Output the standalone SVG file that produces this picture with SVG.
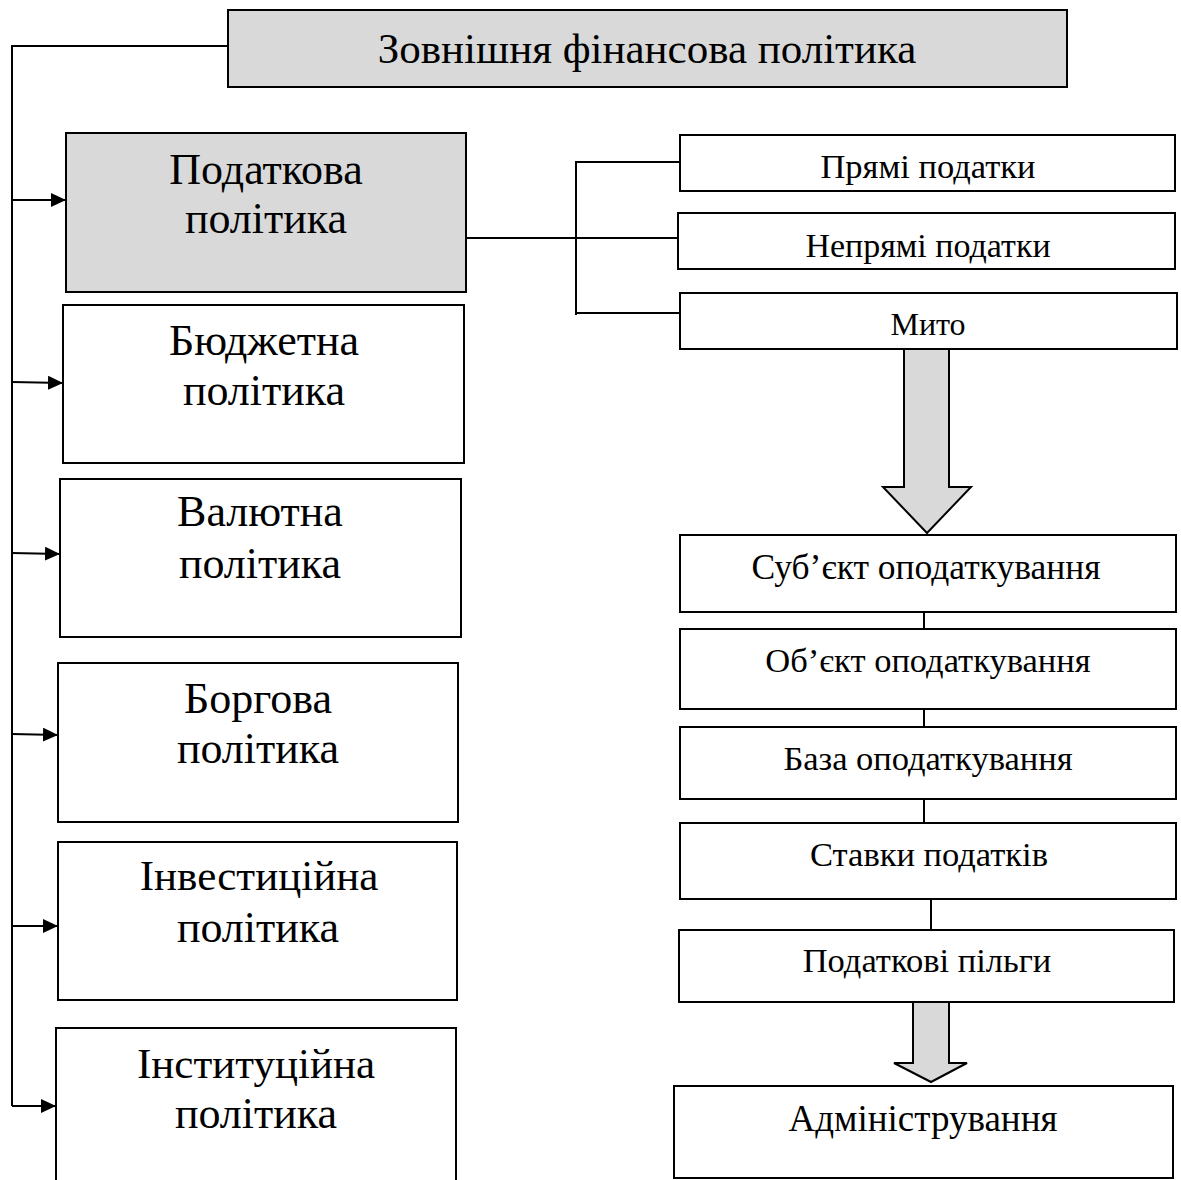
<svg xmlns="http://www.w3.org/2000/svg" width="1181" height="1180" viewBox="0 0 1181 1180">
<style>
.box{fill:#fff;stroke:#000;stroke-width:2}
.grey{fill:#d9d9d9;stroke:#000;stroke-width:2}
.ln{fill:none;stroke:#000;stroke-width:2}
text{font-family:"Liberation Serif","Times New Roman",serif;fill:#000;text-anchor:middle}
.big{font-size:44px}
.mid{font-size:43px}
.small{font-size:34.5px}
.title{font-size:43px}
</style>
<defs>
<marker id="ah" viewBox="0 0 15 14" refX="15" refY="7" markerWidth="15" markerHeight="14" markerUnits="userSpaceOnUse" orient="auto">
<path d="M0,0 L15,7 L0,14 Z" fill="#000"/>
</marker>
</defs>
<g id="connectors">
<polyline class="ln" points="228,46 12,46 12,1106"/>
<line class="ln" x1="12" y1="200" x2="66" y2="200" marker-end="url(#ah)"/>
<line class="ln" x1="12" y1="382" x2="63" y2="383" marker-end="url(#ah)"/>
<line class="ln" x1="12" y1="553" x2="60" y2="554" marker-end="url(#ah)"/>
<line class="ln" x1="12" y1="734" x2="58" y2="735" marker-end="url(#ah)"/>
<line class="ln" x1="12" y1="926" x2="58" y2="926" marker-end="url(#ah)"/>
<line class="ln" x1="12" y1="1106" x2="56" y2="1106" marker-end="url(#ah)"/>
<line class="ln" x1="466" y1="238" x2="680" y2="238"/>
<polyline class="ln" points="680,162 576,162 576,315"/>
<line class="ln" x1="576" y1="313" x2="680" y2="313"/>
<line class="ln" x1="924" y1="612" x2="924" y2="629"/>
<line class="ln" x1="924" y1="709" x2="924" y2="727"/>
<line class="ln" x1="924" y1="799" x2="924" y2="823"/>
<line class="ln" x1="931" y1="899" x2="931" y2="930"/>
<polygon class="grey" points="904,349 949,349 949,487 971,487 927,533 883,487 904,487"/>
<polygon class="grey" points="913,1002 949,1002 949,1063 967,1063 931,1082 894,1063 913,1063"/>
</g>
<g id="n-zovnishnya">
<rect class="grey" x="228" y="10" width="839" height="77"/>
<text class="title" x="647" y="63">Зовнішня фінансова політика</text>
</g>
<g id="n-podatkova">
<rect class="grey" x="66" y="133" width="400" height="159"/>
<text class="big" x="266" y="184">Податкова</text>
<text class="big" x="266" y="233">політика</text>
</g>
<g id="n-byudzhetna">
<rect class="box" x="63" y="305" width="401" height="158"/>
<text class="big" x="264" y="355">Бюджетна</text>
<text class="big" x="264" y="405">політика</text>
</g>
<g id="n-valyutna">
<rect class="box" x="60" y="479" width="401" height="158"/>
<text class="big" x="260" y="526">Валютна</text>
<text class="big" x="260" y="578">політика</text>
</g>
<g id="n-borgova">
<rect class="box" x="58" y="663" width="400" height="159"/>
<text class="big" x="258" y="713">Боргова</text>
<text class="big" x="258" y="763">політика</text>
</g>
<g id="n-investytsiyna">
<rect class="box" x="58" y="842" width="399" height="158"/>
<text class="mid" x="259" y="890">Інвестиційна</text>
<text class="big" x="258" y="942">політика</text>
</g>
<g id="n-instytutsiyna">
<path class="ln" d="M56,1182 L56,1028 L456,1028 L456,1182"/>
<text class="mid" x="256" y="1078">Інституційна</text>
<text class="big" x="256" y="1128">політика</text>
</g>
<g id="n-pryami">
<rect class="box" x="680" y="135" width="495" height="56"/>
<text class="small" x="928" y="178">Прямі податки</text>
</g>
<g id="n-nepryami">
<rect class="box" x="678" y="213" width="497" height="56"/>
<text class="small" x="928" y="257" style="font-size:34px">Непрямі податки</text>
</g>
<g id="n-myto">
<rect class="box" x="680" y="293" width="497" height="56"/>
<text class="small" x="928" y="335" style="font-size:32px">Мито</text>
</g>
<g id="n-subyekt">
<rect class="box" x="680" y="535" width="496" height="77"/>
<text class="small" x="926" y="579" style="font-size:35.5px">Суб’єкт оподаткування</text>
</g>
<g id="n-obyekt">
<rect class="box" x="680" y="629" width="496" height="80"/>
<text class="small" x="928" y="672">Об’єкт оподаткування</text>
</g>
<g id="n-baza">
<rect class="box" x="680" y="727" width="496" height="72"/>
<text class="small" x="928" y="770">База оподаткування</text>
</g>
<g id="n-stavky">
<rect class="box" x="680" y="823" width="496" height="76"/>
<text class="small" x="929" y="866">Ставки податків</text>
</g>
<g id="n-pilgy">
<rect class="box" x="679" y="930" width="495" height="72"/>
<text class="small" x="927" y="972">Податкові пільги</text>
</g>
<g id="n-admin">
<rect class="box" x="674" y="1086" width="499" height="92"/>
<text x="923" y="1131" style="font-size:37px">Адміністрування</text>
</g>
</svg>
